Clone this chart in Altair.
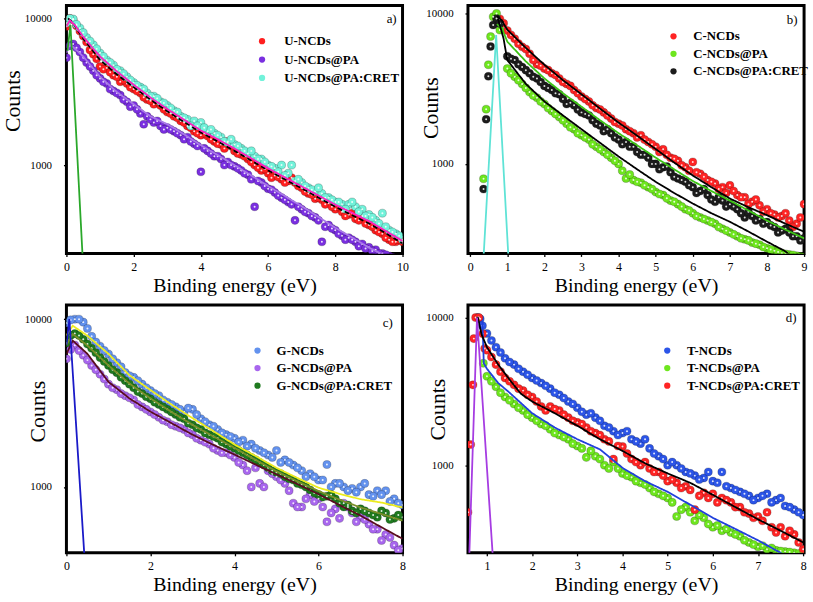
import altair as alt
import pandas as pd

FONT = "Liberation Serif"
W, H = 339, 250

# x grids (eV)
X_GRID = [0.0, 0.2, 0.4, 0.6, 0.8, 1.0, 1.2, 1.4, 1.6, 1.8, 2.0, 2.2, 2.4, 2.6, 2.8,
          3.0, 3.2, 3.4, 3.6, 3.8, 4.0, 4.2, 4.4, 4.6, 4.8, 5.0, 5.2, 5.4, 5.6, 5.8,
          6.0, 6.2, 6.4, 6.6, 6.8, 7.0, 7.2, 7.4, 7.6, 7.8, 8.0, 8.2, 8.4, 8.6, 8.8,
          9.0, 9.2, 9.4, 9.6, 9.8, 10.0]
X_MID = [0.1, 0.3, 0.5, 0.7, 0.9, 1.1, 1.3, 1.5, 1.7, 1.9, 2.1, 2.3, 2.5, 2.7, 2.9,
         3.1, 3.3, 3.5, 3.7, 3.9, 4.1, 4.3, 4.5, 4.7, 4.9, 5.1, 5.3, 5.5, 5.7, 5.9,
         6.1, 6.3, 6.5, 6.7, 6.9, 7.1, 7.3, 7.5, 7.7, 7.9, 8.1, 8.3, 8.5, 8.7, 8.9,
         9.1, 9.3, 9.5, 9.7, 9.9]

# ---------------- panel a ----------------
A_X = X_GRID
A_XM = X_MID
A_U = [8800, 9800, 8200, 6900, 5700, 4700, 4600, 4100, 3700, 3600,
       3300, 3100, 2800, 2600, 2550, 2300, 2150, 2000, 1850, 1700,
       1600, 1580, 1450, 1380, 1450, 1250, 1180, 1100, 1000, 920,
       880, 850, 800, 780, 760, 700, 640, 590, 580, 550,
       500, 480, 460, 430, 450, 390, 360, 340, 310, 300, 300]
A_U_M = [10000, 8900, 7600, 6100, 5300, 4500, 4300, 4000, 3800, 3400,
         3200, 2900, 2750, 2700, 2400, 2250, 2100, 1950, 1800, 1650,
         1650, 1500, 1400, 1300, 1350, 1200, 1150, 1050, 960, 940,
         820, 830, 760, 820, 720, 660, 630, 600, 540, 520,
         520, 450, 470, 420, 400, 380, 350, 320, 300, 310]
A_PA = [5400, 6700, 5900, 5000, 4400, 3900, 3600, 3200, 3000, 2700,
        2550, 2250, 2150, 1950, 1850, 1800, 1700, 1600, 1550, 1400,
        900, 1250, 1150, 1100, 1050, 980, 920, 860, 520, 760,
        690, 650, 600, 560, 420, 500, 470, 440, 300, 390,
        360, 330, 320, 300, 290, 275, 265, 250, 240, 230, 220]
A_PA_M = [6500, 6300, 5400, 4700, 4100, 3700, 3300, 3100, 2800, 2500,
          2400, 1900, 2050, 2000, 1750, 1750, 1650, 1500, 1450, 1350,
          1300, 1200, 1150, 1000, 1000, 950, 880, 800, 780, 720,
          680, 620, 580, 540, 520, 480, 450, 420, 380, 370,
          340, 310, 310, 280, 270, 260, 250, 245, 235, 225]
A_CRET = [9300, 9900, 8600, 7400, 6600, 5800, 5200, 4800, 4400, 4000,
          3650, 3400, 3100, 2950, 2700, 2550, 2350, 2150, 2050, 2000,
          1950, 1700, 1650, 1550, 1420, 1380, 1300, 1200, 1150, 1100,
          1000, 950, 1000, 880, 780, 760, 700, 660, 640, 600,
          560, 540, 540, 520, 500, 460, 420, 470, 360, 340, 310]
A_CRET_M = [10000, 9100, 8000, 7000, 6200, 5500, 5000, 4500, 4200, 3800,
            3500, 3300, 2950, 2850, 2650, 2450, 2300, 2100, 1850, 1850,
            1800, 1750, 1600, 1450, 1500, 1350, 1250, 1250, 1100, 1050,
            980, 900, 850, 1000, 800, 720, 680, 700, 600, 580,
            560, 500, 560, 480, 450, 440, 400, 380, 350, 330]
A_FIT_MAG_X = [0, 0.1, 0.25, 0.5, 0.75, 1, 1.5, 2, 2.5, 3, 3.5, 4, 4.5, 5, 5.5, 6, 6.5, 7, 7.5, 8, 8.5, 9, 9.5, 10]
A_FIT_MAG_Y = [8800, 9700, 9000, 7500, 6400, 5500, 4350, 3530, 2890, 2410, 2040, 1720, 1500, 1295, 1110, 950, 824, 715, 620, 537, 472, 415, 355, 304]
A_FIT_DASH_X = [0.05, 0.2, 0.5, 1, 1.5, 2, 2.5, 3, 3.5, 4, 4.5, 5, 5.5, 6, 6.5, 7, 7.5, 8, 8.5, 9, 9.5, 10]
A_FIT_DASH_Y = [10000, 9300, 7300, 5200, 4150, 3400, 2800, 2330, 1970, 1670, 1450, 1250, 1075, 920, 800, 695, 600, 520, 455, 400, 343, 293]
A_FIT_PA_X = [0, 0.1, 0.5, 1, 1.5, 2, 2.5, 3, 3.5, 4, 4.5, 5, 5.5, 6, 6.5, 7, 7.5, 8, 8.5, 9, 9.5, 10]
A_FIT_PA_Y = [5800, 6700, 5500, 4000, 3150, 2600, 2150, 1900, 1620, 1365, 1170, 1000, 850, 720, 615, 524, 443, 374, 320, 274, 240, 210]
A_IRF_X = [0.03, 0.12, 0.48]
A_IRF_Y = [6000, 9000, 240]

# ---------------- panel b ----------------
B_X = X_GRID[5:46]
B_XM = X_MID[5:45]
B_RISE_X = [0.36, 0.43, 0.49, 0.55, 0.62, 0.71, 0.8]
B_RED_RISE_X = [0.8, 0.9]
B_C = [7700, 6800, 6000, 5400, 4600, 4300, 4000, 3700, 3400, 3100,
       2800, 2600, 2350, 2200, 2000, 1850, 1700, 1600, 1550, 1400,
       1300, 1250, 1100, 1050, 950, 1030, 860, 780, 740, 700,
       720, 620, 600, 560, 530, 500, 460, 450, 420, 400, 540]
B_C_M = [7200, 6300, 5800, 4900, 4500, 4200, 3900, 3500, 3300, 2950,
         2700, 2450, 2300, 2100, 1900, 1800, 1650, 1500, 1450, 1350,
         1200, 1150, 1080, 980, 900, 880, 820, 760, 680, 640,
         660, 600, 540, 580, 480, 470, 440, 470, 380, 440]
B_C_RISE = [9200, 8600]
B_PA = [4300, 3800, 3400, 3000, 2750, 2500, 2250, 2050, 1850, 1700,
        1550, 1450, 1300, 1200, 1100, 1000, 800, 780, 750, 700,
        650, 620, 570, 540, 500, 470, 440, 420, 400, 370,
        350, 330, 315, 300, 290, 275, 265, 255, 250, 245, 240]
B_PA_M = [4000, 3600, 3200, 2850, 2600, 2350, 2150, 1950, 1750, 1600,
          1500, 1350, 1250, 1150, 1050, 900, 850, 760, 720, 680,
          630, 590, 560, 520, 490, 450, 430, 410, 380, 360,
          340, 320, 310, 295, 280, 270, 260, 252, 248, 242]
B_PA_RISE = [796, 2310, 4560, 7020, 9500, 10000, 7760]
B_CRET = [5200, 4900, 4400, 4000, 3700, 3300, 3100, 2900, 2500, 2450,
          2200, 2100, 1850, 1650, 1600, 1450, 1400, 1300, 1150, 1100,
          1000, 950, 880, 800, 760, 700, 660, 620, 560, 570,
          540, 500, 440, 450, 430, 410, 380, 360, 350, 330, 320]
B_CRET_M = [5000, 4600, 4200, 3800, 3500, 3200, 2950, 2700, 2550, 2300,
            2150, 1950, 1800, 1700, 1500, 1350, 1300, 1200, 1150, 1000,
            920, 960, 820, 780, 720, 640, 680, 580, 600, 520,
            520, 470, 480, 420, 400, 390, 350, 370, 330, 310]
B_CRET_RISE = [680, 1980, 3820, 6030, 8380, 9270, 8590]
B_FIT1_X = [0.72, 0.85, 1.0, 1.5, 2, 2.5, 3, 3.5, 4, 4.5, 5, 5.5, 6, 6.5, 7, 7.5, 8, 8.5, 9]
B_FIT1_Y = [9600, 9000, 7800, 5900, 4560, 3600, 2900, 2330, 1880, 1540, 1255, 1020, 837, 700, 588, 515, 456, 400, 354]
B_FIT2_X = [0.72, 0.85, 1.0, 1.5, 2, 2.5, 3, 3.5, 4, 4.5, 5, 5.5, 6, 6.5, 7, 7.5, 8, 8.5, 9]
B_FIT2_Y = [8500, 8000, 6500, 4800, 3700, 2950, 2400, 1950, 1600, 1330, 1100, 920, 770, 660, 570, 490, 420, 365, 320]
B_FIT3_X = [0.75, 0.9, 1.0, 1.5, 2, 2.5, 3, 3.5, 4, 4.5, 5, 5.5, 6, 6.5, 7, 7.5, 8, 8.5, 8.75]
B_FIT3_Y = [9200, 6800, 4900, 3400, 2600, 2100, 1700, 1380, 1120, 920, 760, 640, 545, 470, 412, 355, 304, 262, 230]
B_IRF_X = [0.36, 0.70, 1.03]
B_IRF_Y = [240, 7200, 240]

# ---------------- panel c ----------------
C_X = X_GRID[:41]
C_XM = X_MID[:40]
C_G = [9500, 10000, 9600, 7900, 6900, 6200, 5500, 4800, 4500, 4100,
       3750, 3500, 3200, 3000, 2800, 2900, 2550, 2350, 2200, 2050,
       1950, 1900, 1800, 1650, 1550, 1650, 1450, 1350, 1250, 1200,
       1100, 1360, 1050, 1000, 980, 1000, 900, 950, 950, 850, 780]
C_G_M = [9900, 10000, 8800, 7300, 6500, 5800, 5200, 4600, 4300, 3900,
         3600, 3300, 3100, 2900, 2950, 2700, 2450, 2300, 2100, 2000,
         1850, 1750, 1700, 1600, 1500, 1400, 1400, 1300, 1150, 1150,
         1100, 1000, 1050, 950, 930, 1050, 880, 900, 820, 800]
C_PA = [5800, 7000, 6100, 5300, 4700, 4100, 3800, 3500, 3300, 3000,
        2800, 2600, 2450, 2300, 2200, 2050, 1900, 1800, 1650, 1600,
        1500, 1350, 1000, 1050, 1250, 1150, 1050, 800, 760, 900,
        850, 620, 740, 800, 700, 660, 600, 560, 520, 450, 430]
C_PA_M = [6600, 6500, 5700, 5000, 4400, 3900, 3600, 3400, 3100, 2900,
          2700, 2500, 2350, 2250, 2100, 1950, 1850, 1700, 1600, 1550,
          1400, 1250, 1300, 1000, 1200, 1100, 950, 760, 850, 820,
          760, 700, 650, 760, 620, 640, 560, 480, 500, 420]
C_CRET = [7200, 8200, 7600, 6700, 5900, 5300, 4800, 4300, 3900, 3600,
          3350, 3100, 2900, 2700, 2550, 2350, 2200, 2050, 1950, 1800,
          1700, 1600, 1500, 1400, 1300, 1220, 1150, 1100, 1030, 960,
          900, 880, 850, 760, 720, 740, 700, 660, 700, 650, 660]
C_CRET_M = [8000, 8000, 7100, 6300, 5600, 5000, 4500, 4100, 3700, 3450,
            3200, 3000, 2800, 2600, 2400, 2250, 2100, 2000, 1850, 1750,
            1650, 1550, 1450, 1350, 1250, 1200, 1120, 1050, 1000, 920,
            870, 900, 800, 780, 700, 720, 680, 720, 640, 680]
C_FIT_X = [0, 0.15, 0.5, 1, 1.5, 2, 2.5, 3, 3.5, 4, 4.5, 5, 5.5, 6, 6.5, 7, 7.5, 8]
C_FIT_G = [8000, 9130, 7970, 6210, 4630, 3780, 3100, 2570, 2150, 1790, 1530, 1300, 1130, 990, 910, 845, 807, 755]
C_FIT_CRET = [7000, 8150, 6960, 5300, 4130, 3370, 2800, 2345, 2000, 1710, 1450, 1240, 1080, 946, 840, 755, 690, 630]
C_FIT_PA = [6200, 7450, 6210, 4230, 3370, 2810, 2400, 2050, 1780, 1560, 1360, 1190, 1040, 906, 780, 675, 575, 491]
C_IRF_X = [0.0, 0.07, 0.43]
C_IRF_Y = [7000, 10000, 380]

# ---------------- panel d ----------------
D_X = X_GRID[5:41]
D_XM = X_MID[5:40]
D_T = [7800, 6300, 5300, 4800, 4300, 3900, 3600, 3300, 3000, 2700,
       2450, 2200, 2100, 1850, 1700, 1650, 1500, 1400, 1300, 1150,
       1000, 1000, 900, 850, 820, 780, 900, 700, 660, 620,
       600, 640, 580, 530, 500, 460]
D_T_M = [7000, 5800, 5000, 4500, 4100, 3750, 3450, 3100, 2850, 2600,
         2300, 2250, 2000, 1800, 1600, 1700, 1450, 1500, 1200, 1100,
         1050, 950, 880, 800, 900, 760, 720, 680, 640, 580,
         620, 560, 600, 520, 480]
D_T_RISE_X = [0.8, 0.85, 0.9]
D_T_RISE = [10000, 9800, 8800]
D_PA = [4000, 3400, 2900, 2600, 2350, 2100, 1900, 1750, 1600, 1500,
        1350, 1130, 1150, 1000, 1050, 880, 830, 760, 700, 640,
        600, 450, 520, 420, 440, 380, 360, 350, 330, 300,
        280, 270, 265, 260, 255, 250]
D_PA_M = [3700, 3100, 2750, 2450, 2200, 2000, 1850, 1650, 1550, 1400,
          1300, 1250, 1100, 950, 950, 850, 780, 740, 660, 620,
          560, 500, 480, 460, 400, 390, 370, 340, 310, 290,
          285, 275, 262, 258, 252]
D_PA_RISE_X = [0.92]
D_PA_RISE = [4900]
D_CRET = [6000, 4800, 3900, 3500, 3200, 2900, 2500, 2500, 2350, 2100,
          1950, 1800, 1650, 1500, 1100, 1340, 1100, 1000, 950, 900,
          780, 760, 720, 500, 650, 640, 600, 560, 520, 470,
          450, 480, 350, 330, 340, 270]
D_CRET_M = [5400, 4300, 3700, 3300, 3000, 2700, 2350, 2400, 2200, 2000,
            1900, 1700, 1600, 1450, 1350, 1200, 1050, 1050, 900, 850,
            800, 700, 680, 620, 600, 560, 580, 520, 480, 440,
            420, 380, 380, 360, 300]
D_CRET_RISE_X = [0.58, 0.64, 0.69, 0.71, 0.75, 0.82, 0.91, 0.95]
D_CRET_RISE = [480, 1380, 3500, 7200, 10000, 10000, 7760, 6170]
D_FIT_BLACK_X = [0.77, 0.8, 0.88, 1.0, 1.25, 1.5, 1.75, 2.0, 2.5, 3.0, 3.5, 4.0, 4.5, 5.0, 5.5, 6.0, 6.5, 7.0, 7.5, 8.0]
D_FIT_BLACK_Y = [10000, 10000, 7700, 6300, 4800, 3800, 3050, 2700, 2250, 1850, 1500, 1250, 1030, 880, 760, 630, 520, 430, 360, 300]
D_FIT_BLUE_X = [0.9, 0.93, 1.0, 1.25, 1.5, 2.0, 2.5, 3.0, 3.5, 4.0, 4.5, 5.0, 5.5, 6.0, 6.5, 7.0, 7.5, 7.8]
D_FIT_BLUE_Y = [9500, 4900, 4500, 3600, 3100, 2250, 1800, 1500, 1280, 960, 780, 660, 540, 440, 370, 310, 255, 230]
D_IRF_X = [0.61, 0.78, 1.13]
D_IRF_Y = [250, 10000, 240]


def table(specs):
    rows = []
    for name, xs, ys in specs:
        assert len(xs) == len(ys), (name, len(xs), len(ys))
        for x, y in zip(xs, ys):
            rows.append({"x": x, "y": y, "s": name})
    return pd.DataFrame(rows)


def panel(points, names, colors, lines, lnames, lcolors, ldash, xdom, xvals, ydom,
          leg, ytitle, tag, tagxy):
    xax = alt.Axis(values=xvals, format="d", title="Binding energy (eV)",
                   labelFlush=False, labelOverlap=False, labelFont=FONT,
                   labelFontSize=12, labelColor="black", labelPadding=5,
                   tickSize=3, tickColor="black", tickWidth=1.3,
                   domain=False, grid=False,
                   titleFont=FONT, titleFontSize=20, titleFontWeight="normal",
                   titleColor="black", titleX=W / 2, titleY=38,
                   titleBaseline="alphabetic", titleAlign="center")
    yax = alt.Axis(values=[1000, 10000], format="d", title="Counts",
                   labelFont=FONT, labelFontSize=11, labelColor="black",
                   labelOverlap=False, labelPadding=12, tickSize=3,
                   tickColor="black", tickWidth=1.3, domain=False, grid=False,
                   titleFont=FONT, titleFontSize=22, titleFontWeight="normal",
                   titleColor="black", titleAngle=270, titleX=ytitle[0],
                   titleY=ytitle[1], titleBaseline="alphabetic",
                   titleAlign="center")
    xsc = alt.Scale(domain=xdom, nice=False, zero=False)
    ysc = alt.Scale(type="log", domain=ydom, nice=False)
    legend = alt.Legend(orient="none", legendX=leg[0], legendY=leg[1], title=None,
                        labelFont=FONT, labelFontSize=13, labelFontWeight="bold",
                        labelColor="black", symbolType="circle", symbolSize=40,
                        symbolStrokeWidth=0, padding=0, rowPadding=leg[3],
                        labelOffset=leg[2], symbolOffset=0, direction="vertical")
    base = alt.Chart(points)
    pts = base.mark_circle(size=66, opacity=1, stroke="black", strokeOpacity=0.3,
                           strokeWidth=0.7, clip=True).encode(
        x=alt.X("x:Q", scale=xsc, axis=xax),
        y=alt.Y("y:Q", scale=ysc, axis=yax),
        fill=alt.Fill("s:N", scale=alt.Scale(domain=names, range=colors), legend=legend),
    )
    hl = base.mark_circle(size=4, color="white", opacity=0.85, clip=True).encode(
        x=alt.X("x:Q", scale=xsc, axis=xax), y=alt.Y("y:Q", scale=ysc, axis=yax))
    ln = alt.Chart(lines).mark_line(strokeWidth=1.8, clip=True).encode(
        x=alt.X("x:Q", scale=xsc, axis=xax), y=alt.Y("y:Q", scale=ysc, axis=yax),
        stroke=alt.Stroke("s:N", scale=alt.Scale(domain=lnames, range=lcolors), legend=None),
        strokeDash=alt.StrokeDash("s:N", scale=alt.Scale(domain=lnames, range=ldash), legend=None),
    )
    tg = alt.Chart(pd.DataFrame({"t": [tag]})).mark_text(
        font=FONT, fontSize=13, color="black", align="center", baseline="middle").encode(
        text="t:N", x=alt.value(tagxy[0]), y=alt.value(tagxy[1]))
    return alt.layer(pts, hl, ln, tg).properties(width=W, height=H)


SOLID = [1, 0]

pa = panel(
    table([("U-NCDs", A_X + A_XM, A_U + A_U_M),
           ("U-NCDs@PA", A_X + A_XM, A_PA + A_PA_M),
           ("U-NCDs@PA:CRET", A_X + A_XM, A_CRET + A_CRET_M)]),
    ["U-NCDs", "U-NCDs@PA", "U-NCDs@PA:CRET"], ["#ff1f1f", "#7a2fe0", "#72f2da"],
    table([("pa", A_FIT_PA_X, A_FIT_PA_Y), ("dash", A_FIT_DASH_X, A_FIT_DASH_Y),
           ("mag", A_FIT_MAG_X, A_FIT_MAG_Y), ("irf", A_IRF_X, A_IRF_Y)]),
    ["pa", "dash", "mag", "irf"], ["#a877e8", "#000000", "#ff1fc0", "#2aa82a"],
    [SOLID, [5, 3], SOLID, SOLID],
    [0, 10], [0, 2, 4, 6, 8, 10], [250, 12240],
    (190.8, 29.5, 15.9, 4.5), (-47, 96), "a)", (328, 14))

pb = panel(
    table([("C-NCDs", B_RED_RISE_X + B_X + B_XM, B_C_RISE + B_C + B_C_M),
           ("C-NCDs@PA", B_RISE_X + B_X + B_XM, B_PA_RISE + B_PA + B_PA_M),
           ("C-NCDs@PA:CRET", B_RISE_X + B_X + B_XM, B_CRET_RISE + B_CRET + B_CRET_M)]),
    ["C-NCDs", "C-NCDs@PA", "C-NCDs@PA:CRET"], ["#ff2424", "#6ee61e", "#1c1c1c"],
    table([("f1", B_FIT1_X, B_FIT1_Y), ("f2", B_FIT2_X, B_FIT2_Y),
           ("f3", B_FIT3_X, B_FIT3_Y), ("irf", B_IRF_X, B_IRF_Y)]),
    ["f1", "f2", "f3", "irf"], ["#000000", "#3cc414", "#000000", "#5fe3d6"],
    [SOLID, SOLID, SOLID, SOLID],
    [-0.06, 9], [0, 1, 2, 3, 4, 5, 6, 7, 8, 9], [254, 11290],
    (200.8, 24.5, 13.4, 3.7), (-31, 103), "b)", (327, 15))

pc = panel(
    table([("G-NCDs", C_X + C_XM, C_G + C_G_M),
           ("G-NCDs@PA", C_X + C_XM, C_PA + C_PA_M),
           ("G-NCDs@PA:CRET", C_X + C_XM, C_CRET + C_CRET_M)]),
    ["G-NCDs", "G-NCDs@PA", "G-NCDs@PA:CRET"], ["#6392ee", "#a866ee", "#1f7a1f"],
    table([("fg", C_FIT_X, C_FIT_G), ("fc", C_FIT_X, C_FIT_CRET),
           ("fp", C_FIT_X, C_FIT_PA), ("irf", C_IRF_X, C_IRF_Y)]),
    ["fg", "fc", "fp", "irf"], ["#ecec1e", "#7b8f2a", "#5a0c20", "#1a1ac8"],
    [SOLID, SOLID, SOLID, SOLID],
    [0, 8], [0, 2, 4, 6, 8], [405, 12150],
    (186.2, 39.5, 12.8, 3.7), (-22, 107), "c)", (324, 18))

p_d = panel(
    table([("T-NCDs", D_T_RISE_X + D_X + D_XM, D_T_RISE + D_T + D_T_M),
           ("T-NCDs@PA", D_PA_RISE_X + D_X + D_XM, D_PA_RISE + D_PA + D_PA_M),
           ("T-NCDs@PA:CRET", D_CRET_RISE_X + D_X + D_XM, D_CRET_RISE + D_CRET + D_CRET_M)]),
    ["T-NCDs", "T-NCDs@PA", "T-NCDs@PA:CRET"], ["#2c55e8", "#6ee61e", "#ff2424"],
    table([("fb", D_FIT_BLUE_X, D_FIT_BLUE_Y), ("fk", D_FIT_BLACK_X, D_FIT_BLACK_Y),
           ("irf", D_IRF_X, D_IRF_Y)]),
    ["fb", "fk", "irf"], ["#2040dc", "#000000", "#a63ce2"],
    [SOLID, SOLID, SOLID],
    [0.58, 8.02], [1, 2, 3, 4, 5, 6, 7, 8], [255, 12170],
    (194.5, 39.5, 13.5, 3.7), (-24, 105), "d)", (326, 13))

chart = alt.concat(
    pa, pb, pc, p_d, columns=2, spacing={"row": 52, "column": 66}, bounds="flush"
).resolve_scale(
    x="independent", y="independent", fill="independent",
    stroke="independent", strokeDash="independent"
).resolve_legend(
    fill="independent", stroke="independent", strokeDash="independent"
).properties(
    padding={"left": 0, "top": 1, "right": 2, "bottom": 2}, background="white"
).configure(
    font=FONT
).configure_axis(
    labelFont=FONT, titleFont=FONT, labelOverlap=False
).configure_legend(
    labelFont=FONT
).configure_text(
    font=FONT
).configure_view(stroke="black", strokeWidth=3)

chart.save("out.html", embed_options={"renderer": "svg", "actions": False})
